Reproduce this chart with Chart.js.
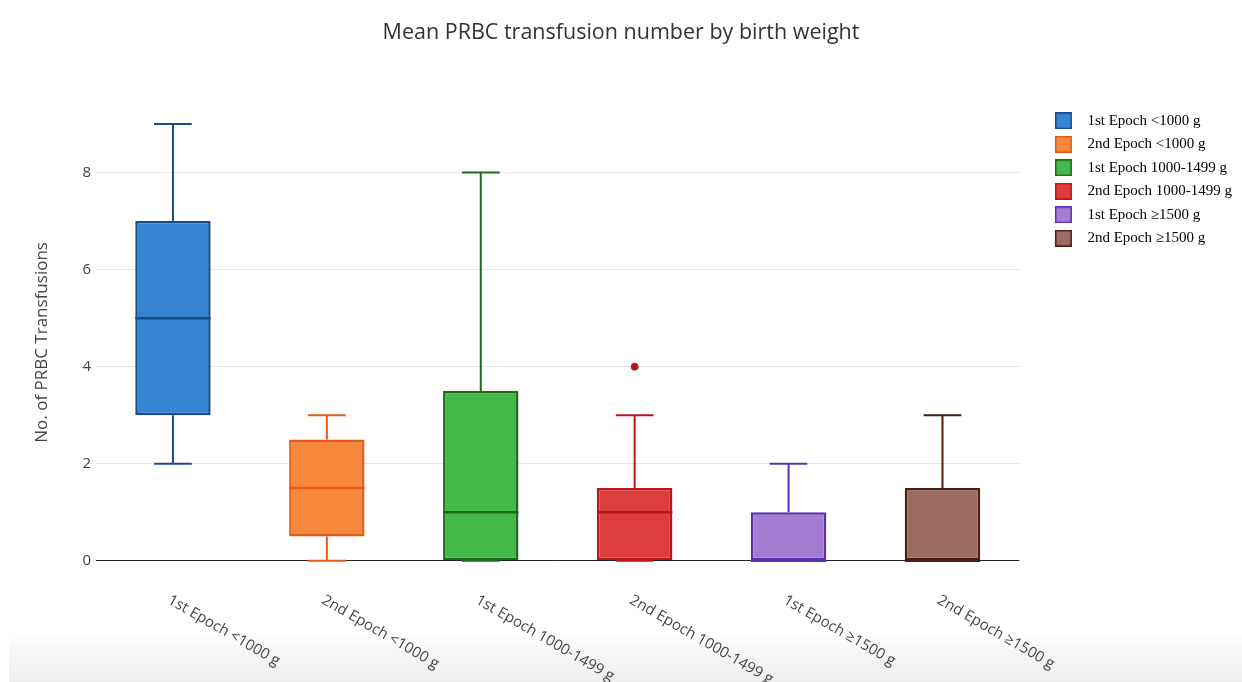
<!DOCTYPE html>
<html>
<head>
<meta charset="utf-8">
<script src="https://cdn.jsdelivr.net/npm/chart.js@4/dist/chart.umd.min.js"></script>
<style>
  html, body { margin: 0; padding: 0; background: #fff; }
  #wrap { position: relative; width: 1242px; height: 682px; overflow: hidden; }
  #shade { position: absolute; left: 9px; right: 0; top: 632px; bottom: 0;
           background: linear-gradient(to bottom, #ffffff 0%, #f6f6f6 40%, #efefef 100%); }
  canvas { position: absolute; left: 0; top: 0; }
</style>
</head>
<body>
<div id="wrap">
  <div id="shade"></div>
  <canvas id="c" width="1242" height="682"></canvas>
</div>
<script>
const categories = ['1st Epoch <1000 g', '2nd Epoch <1000 g', '1st Epoch 1000-1499 g',
                    '2nd Epoch 1000-1499 g', '1st Epoch \u22651500 g', '2nd Epoch \u22651500 g'];
const mins    = [2, 0,   0,   0,   0, 0];
const q1      = [3, 0.5, 0,   0,   0, 0];
const medians = [5, 1.5, 1,   1,   0, 0];
const q3      = [7, 2.5, 3.5, 1.5, 1, 1.5];
const maxs    = [9, 3,   8,   3,   2, 3];
const outliers = [null, null, null, 4, null, null];
const yTicks = [0, 2, 4, 6, 8];

const fills = ['#3784d2', '#f5883d', '#44b94a', '#dc3d3d', '#a47bd0', '#9c6b62'];
const lines = ['#1b4a8c', '#e55a1a', '#1c6b1c', '#c0141a', '#5a30b2', '#4a1c14'];

// legend swatches: a square inside a wider transparent canvas (sets the gap before the text)
const swatches = fills.map((f, i) => {
  const cv = document.createElement('canvas');
  cv.width = 32; cv.height = 17;
  const g = cv.getContext('2d');
  g.fillStyle = f;
  g.fillRect(7, 0, 17, 17);
  g.strokeStyle = lines[i];
  g.lineWidth = 1.5;
  g.strokeRect(7.75, 0.75, 15.5, 15.5);
  return cv;
});

const boxPlotPlugin = {
  id: 'boxparts',
  afterLayout(chart) {
    const lg = chart.legend;
    if (lg) { lg.top += 5; lg.bottom += 5; }
  },
  beforeDatasetsDraw(chart) {
    const ctx = chart.ctx, xs = chart.scales.x, ys = chart.scales.y;
    const meta = chart.getDatasetMeta(0);
    ctx.save();
    categories.forEach((c, i) => {
      const bar = meta.data[i];
      const x = xs.getPixelForValue(i);
      const half = bar.width / 4;
      ctx.strokeStyle = lines[i];
      ctx.lineWidth = 2;
      ctx.beginPath();
      ctx.moveTo(x, ys.getPixelForValue(q3[i])); ctx.lineTo(x, ys.getPixelForValue(maxs[i]));
      ctx.moveTo(x, ys.getPixelForValue(q1[i])); ctx.lineTo(x, ys.getPixelForValue(mins[i]));
      ctx.moveTo(x - half, ys.getPixelForValue(maxs[i])); ctx.lineTo(x + half, ys.getPixelForValue(maxs[i]));
      ctx.moveTo(x - half, ys.getPixelForValue(mins[i])); ctx.lineTo(x + half, ys.getPixelForValue(mins[i]));
      ctx.stroke();
    });
    ctx.restore();
  },
  afterDatasetsDraw(chart) {
    const ctx = chart.ctx, xs = chart.scales.x, ys = chart.scales.y;
    const meta = chart.getDatasetMeta(0);
    ctx.save();
    categories.forEach((c, i) => {
      const bar = meta.data[i];
      const x = xs.getPixelForValue(i);
      const half = bar.width / 2;
      const y = ys.getPixelForValue(medians[i]);
      ctx.strokeStyle = lines[i];
      ctx.lineWidth = 2.5;
      ctx.beginPath();
      ctx.moveTo(x - half, y); ctx.lineTo(x + half, y);
      ctx.stroke();
    });
    ctx.restore();
  },
  afterDraw(chart) {
    const ctx = chart.ctx, xs = chart.scales.x;
    const base = chart.chartArea.bottom;
    ctx.save();
    ctx.font = '15px "Open Sans"';
    ctx.fillStyle = '#444';
    ctx.textAlign = 'left';
    ctx.textBaseline = 'middle';
    categories.forEach((c, i) => {
      const x = xs.getPixelForValue(i);
      ctx.save();
      ctx.translate(x - 4, base + 14);
      ctx.rotate(Math.PI / 6);
      ctx.fillText(c, 0, 0);
      ctx.restore();
    });
    ctx.restore();
  }
};

new Chart(document.getElementById('c'), {
  type: 'bar',
  data: {
    labels: categories,
    datasets: [
      {
        data: categories.map((c, i) => [q1[i], q3[i]]),
        backgroundColor: fills,
        borderColor: lines,
        borderWidth: 2.5,
        borderSkipped: false,
        categoryPercentage: 1,
        barPercentage: 0.49,
        order: 2
      },
      {
        type: 'line',
        data: outliers,
        showLine: false,
        pointRadius: 3.5,
        pointBackgroundColor: '#b31b1b',
        pointBorderColor: '#b31b1b',
        order: 1
      }
    ]
  },
  plugins: [boxPlotPlugin],
  options: {
    responsive: false,
    animation: false,
    devicePixelRatio: 1,
    layout: { padding: { left: 0, right: 0, top: 0, bottom: 0 } },
    plugins: {
      title: {
        display: true,
        text: 'Mean PRBC transfusion number by birth weight',
        color: '#333',
        font: { family: '"Open Sans"', size: 21.5, weight: 'normal' },
        padding: { top: 20, bottom: 54 }
      },
      legend: {
        display: true,
        position: 'right',
        align: 'start',
        fullSize: false,
        onClick: null,
        labels: {
          usePointStyle: true,
          pointStyleWidth: 32,
          boxHeight: 15,
          padding: 8.5,
          color: '#222',
          font: { family: '"Liberation Serif"', size: 15 },
          generateLabels: () => categories.map((c, i) => ({
            text: c, fillStyle: fills[i], strokeStyle: lines[i], lineWidth: 1.5,
            pointStyle: swatches[i],
            hidden: false, index: i, datasetIndex: 0
          }))
        }
      },
      tooltip: { enabled: false }
    },
    scales: {
      x: {
        grid: { display: false },
        border: { display: false },
        ticks: { display: false },
        afterFit: s => { s.height = 97; }
      },
      y: {
        min: -0.5,
        max: 9.5,
        afterBuildTicks: s => { s.ticks = yTicks.map(v => ({ value: v })); },
        grid: {
          color: ctx => ctx.tick && ctx.tick.value === 0 ? '#222' : '#e6e6e6',
          lineWidth: 1,
          drawTicks: false
        },
        border: { display: false },
        ticks: { color: '#444', padding: 5, font: { family: '"Open Sans"', size: 15 } },
        title: {
          display: true,
          text: 'No. of PRBC Transfusions',
          color: '#444',
          font: { family: '"Open Sans"', size: 17 },
          padding: { top: 32, bottom: 0 }
        },
        afterFit: s => { s.width = 96; }
      },
      spacer: {
        position: 'right',
        display: true,
        grid: { display: false },
        border: { display: false },
        ticks: { display: false },
        afterFit: s => { s.width = 20; }
      }
    }
  }
});
</script>
</body>
</html>
